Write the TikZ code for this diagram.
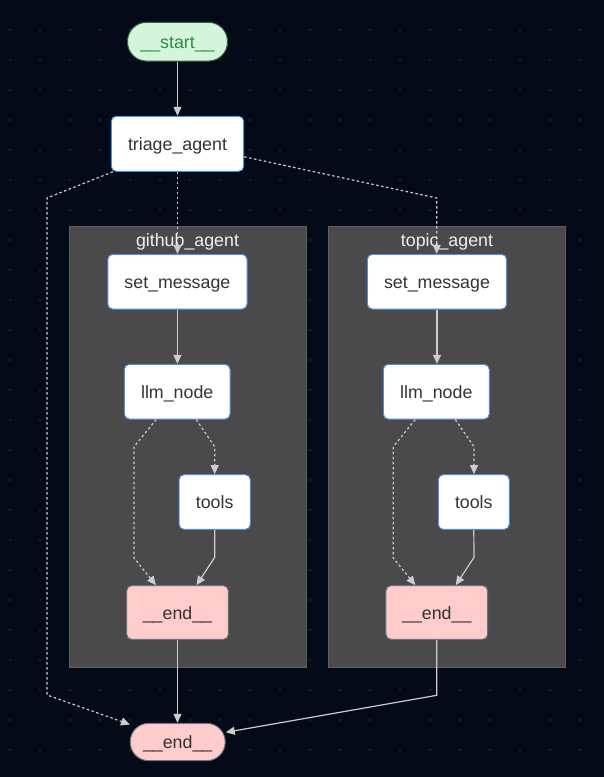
\documentclass[tikz,border=0pt]{standalone}
\usepackage{fontspec}
\setmainfont{Liberation Sans}
\usetikzlibrary{arrows.meta}
\definecolor{bgc}{HTML}{050A19}
\definecolor{dotc}{HTML}{1C2131}
\definecolor{clfill}{HTML}{494A49}
\definecolor{cldraw}{HTML}{5E5F60}
\definecolor{nodeblue}{HTML}{4A8FE0}
\definecolor{txt}{HTML}{333333}
\definecolor{startfill}{HTML}{D4F4DB}
\definecolor{startdraw}{HTML}{2D6A38}
\definecolor{starttxt}{HTML}{2E8B3E}
\definecolor{endfill}{HTML}{FFCCCC}
\definecolor{enddraw}{HTML}{67727C}
\definecolor{edgec}{HTML}{CCCCCC}
\definecolor{cltxt}{HTML}{F0F0F0}
\tikzset{
  lbl/.style={font=\fontsize{17.8}{21}\selectfont, text height=16.7pt, text depth=3.7pt},
  gbox/.style={lbl, draw=nodeblue, line width=1pt, fill=white, text=txt, rounded corners=5pt, inner sep=0pt},
  startnode/.style={lbl, draw=startdraw, line width=1pt, fill=startfill, text=starttxt, rounded corners=19pt, inner sep=0pt, minimum width=100pt, minimum height=38.7pt},
  endbox/.style={lbl, draw=enddraw, line width=1pt, fill=endfill, text=txt, rounded corners=5pt, inner sep=0pt, minimum width=101.7pt, minimum height=53.7pt},
  finalend/.style={lbl, draw=enddraw, line width=1pt, fill=endfill, text=txt, rounded corners=18.5pt, inner sep=0pt, minimum width=95pt, minimum height=37.4pt},
  cluster/.style={draw=cldraw, line width=1pt, fill=clfill},
  cltitle/.style={lbl, text=cltxt, inner sep=0pt},
  edge/.style={draw=edgec, line width=1.2pt, -{Triangle[length=9pt,width=8pt]}},
  dotedge/.style={edge, dash pattern=on 2.5pt off 2.5pt},
}
\begin{document}
\begin{tikzpicture}[x=1pt,y=-1pt]
\fill[bgc] (0,0) rectangle (604,777);
\useasboundingbox (0,0) rectangle (604,777);
\foreach \i in {0,...,19} {
  \foreach \j in {1,...,25} {
    \fill[dotc] ({10+30*\i},{30*\j}) circle (1.3pt);
  }
}
% clusters
\draw[cluster] (69,226.7) rectangle (306,667.3);
\draw[cluster] (328.3,226.7) rectangle (565.7,667.3);
\node[cltitle] (tg) at (187.5,240.3) {github\_agent};
\node[cltitle] (tt) at (447,240.3) {topic\_agent};
% nodes
\node[startnode] (start) at (177.5,41.7) {\_\_start\_\_};
\node[gbox, minimum width=132.4pt, minimum height=55pt] (triage) at (177.5,143.8) {triage\_agent};
\node[gbox, minimum width=139.3pt, minimum height=54.7pt] (setL) at (177.4,281.7) {set\_message};
\node[gbox, minimum width=105.7pt, minimum height=54.7pt] (llmL) at (177.2,391.7) {llm\_node};
\node[gbox, minimum width=71.3pt, minimum height=54.7pt] (toolsL) at (214.7,502) {tools};
\node[endbox] (endL) at (177.5,612.5) {\_\_end\_\_};
\node[gbox, minimum width=139.3pt, minimum height=54.7pt] (setR) at (437,281.7) {set\_message};
\node[gbox, minimum width=106pt, minimum height=54.7pt] (llmR) at (436.3,391.7) {llm\_node};
\node[gbox, minimum width=71pt, minimum height=54.7pt] (toolsR) at (473.8,502) {tools};
\node[endbox] (endR) at (436.8,612.5) {\_\_end\_\_};
\node[finalend] (fend) at (177.7,742) {\_\_end\_\_};
% waypoints
\coordinate (b1) at (47,198);
\coordinate (b2) at (47,695);
\coordinate (fin1) at (130,724.5);
\coordinate (r1) at (436.7,198);
\coordinate (lt1) at (214.7,446.7);
\coordinate (le1) at (134,446.7);
\coordinate (le2) at (134,558);
\coordinate (te1) at (214.7,557.3);
\coordinate (rt1) at (474,446.7);
\coordinate (re1) at (393.3,446.7);
\coordinate (re2) at (393.3,558);
\coordinate (tr1) at (474,557.3);
\coordinate (e1) at (436.8,695.3);
\coordinate (fin2) at (225.8,732.3);
% edges
\draw[edge] (start.south) -- (start.south |- triage.north);
\draw[dotedge] (triage.south) -- (triage.south |- setL.north);
\draw[dotedge] ([yshift=-13pt]triage.east) -- (r1) -- (r1 |- setR.north);
\draw[dotedge] ([xshift=2pt]triage.south west) -- (b1) -- (b2) -- (fin1);
\draw[edge] (setL.south) -- (setL.south |- llmL.north);
\draw[edge] (setR.south) -- (setR.south |- llmR.north);
\draw[dotedge] ([xshift=19pt]llmL.south) -- (lt1) -- (lt1 |- toolsL.north);
\draw[dotedge] ([xshift=-21pt]llmL.south) -- (le1) -- (le2) -- ([xshift=-21.5pt]endL.north);
\draw[edge] (toolsL.south) -- (te1) -- ([xshift=19pt]endL.north);
\draw[dotedge] ([xshift=19pt]llmR.south) -- (rt1) -- (rt1 |- toolsR.north);
\draw[dotedge] ([xshift=-21pt]llmR.south) -- (re1) -- (re2) -- ([xshift=-21.5pt]endR.north);
\draw[edge] (toolsR.south) -- (tr1) -- ([xshift=19pt]endR.north);
\draw[edge] (endL.south) -- (endL.south |- fend.north);
\draw[edge] (endR.south) -- (e1) -- (fin2);
\end{tikzpicture}
\end{document}
